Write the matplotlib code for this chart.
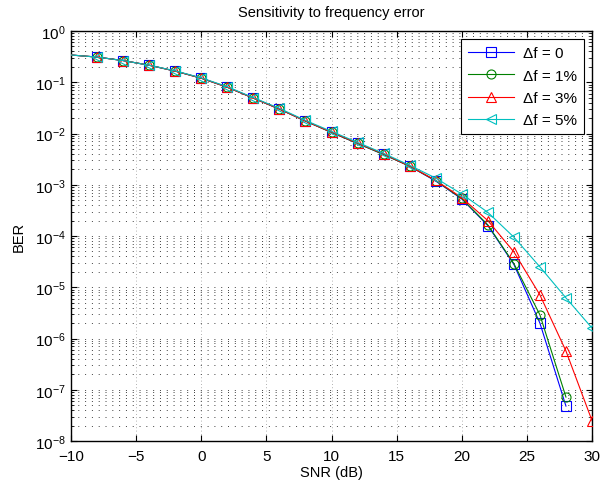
import matplotlib
matplotlib.use("Agg")
import matplotlib.pyplot as plt
import numpy as np
from matplotlib.ticker import LogLocator, NullFormatter

plt.rcParams['font.family'] = ['Liberation Sans', 'DejaVu Sans']

snr_full = [-10, -8, -6, -4, -2, 0, 2, 4, 6, 8, 10, 12, 14, 16, 18, 20, 22, 24, 26, 28, 30]

ber_df0 = [0.34, 0.31, 0.265, 0.215, 0.165, 0.12, 0.08, 0.049, 0.030, 0.0175, 0.0105,
           0.0064, 0.0039, 0.0023, 0.00118, 5.3e-4, 1.6e-4, 2.8e-5, 2.0e-6, 4.8e-8]
ber_df1 = [0.34, 0.31, 0.265, 0.215, 0.165, 0.12, 0.08, 0.049, 0.030, 0.0175, 0.0105,
           0.0064, 0.0039, 0.0023, 0.0012, 5.4e-4, 1.65e-4, 2.9e-5, 2.9e-6, 7.2e-8]
ber_df3 = [0.34, 0.31, 0.265, 0.215, 0.165, 0.12, 0.08, 0.049, 0.030, 0.0175, 0.0106,
           0.0065, 0.0040, 0.0023, 0.00122, 5.6e-4, 2.0e-4, 4.9e-5, 7.1e-6, 5.7e-7, 2.5e-8]
ber_df5 = [0.34, 0.31, 0.265, 0.215, 0.167, 0.122, 0.082, 0.050, 0.031, 0.018, 0.011,
           0.0067, 0.0041, 0.0024, 0.00135, 6.6e-4, 2.9e-4, 9.5e-5, 2.5e-5, 6.2e-6, 1.6e-6]

labels = ['\u0394f = 0', '\u0394f = 1%', '\u0394f = 3%', '\u0394f = 5%']
xticks = [-10, -5, 0, 5, 10, 15, 20, 25, 30]
xticklabels = ['\u221210', '\u22125', '0', '5', '10', '15', '20', '25', '30']

fig = plt.figure(figsize=(6.0, 4.85), dpi=100)
ax = fig.add_axes([71/600, 43/485, 521/600, 410/485])

series = [
    (ber_df0, 'b', 's', labels[0]),
    (ber_df1, (0, 0.5, 0), 'o', labels[1]),
    (ber_df3, 'r', '^', labels[2]),
    (ber_df5, (0, 0.75, 0.75), '<', labels[3]),
]
for ber, col, mk, lab in series:
    x = snr_full[:len(ber)]
    ax.semilogy(x, ber, color=col, marker=mk, markersize=6.5, markerfacecolor='none',
                markeredgecolor=col, markeredgewidth=0.8, linewidth=0.8,
                markevery=slice(1, None), label=lab, zorder=3)

ax.set_xlim(-10, 30)
ax.set_ylim(1e-8, 1e0)
ax.set_xticks(xticks)
ax.set_xticklabels(xticklabels)
ax.yaxis.set_major_locator(LogLocator(base=10, numticks=20))
ax.yaxis.set_minor_locator(LogLocator(base=10, subs=np.arange(2, 10), numticks=20))
ax.yaxis.set_minor_formatter(NullFormatter())

ax.grid(True, which='major', axis='x', linestyle=(0, (1, 3)), color='0.6', linewidth=0.6)
ax.grid(True, which='major', axis='y', linestyle=(0, (1, 6)), color='0.25', linewidth=0.7)
ax.grid(True, which='minor', axis='y', linestyle=(0, (1, 6)), color='0.25', linewidth=0.7)

ax.tick_params(which='both', direction='in', top=True, right=True, labelsize=11)
ax.tick_params(which='major', length=4)
ax.tick_params(which='minor', length=2)
ax.tick_params(axis='x', which='major', pad=6)
ax.tick_params(axis='y', which='major', pad=4)
for s in ax.spines.values():
    s.set_linewidth(1.0)

ax.set_xlabel('SNR (dB)', fontsize=10.5, labelpad=1)
ax.set_ylabel('BER', fontsize=10.5, labelpad=6)
ax.set_title('Sensitivity to frequency error', fontsize=10.5, pad=11)

leg = ax.legend(loc='upper right', fontsize=11, fancybox=False, framealpha=1,
                edgecolor='k', borderaxespad=0.55, handlelength=3.0, labelspacing=0.55,
                borderpad=0.45, handletextpad=0.6)
leg.get_frame().set_linewidth(0.8)

fig.savefig('out.png', dpi=100)
